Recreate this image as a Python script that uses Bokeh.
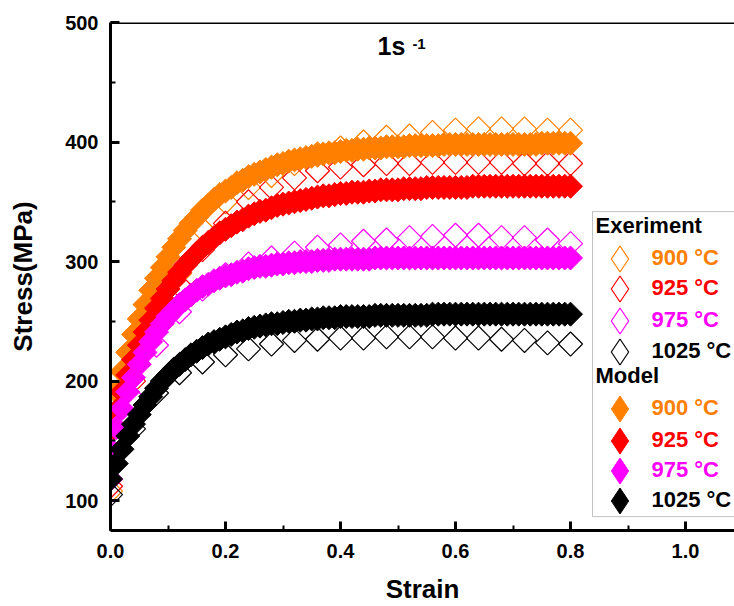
import math
from bokeh.plotting import figure
from bokeh.models import (Range1d, SingleIntervalTicker, Label, Legend, LegendItem,
                          BoxAnnotation, Span, PrintfTickFormatter)
from bokeh.embed import file_html
from bokeh.resources import INLINE

# ---------------- data ----------------
strain_exp = [0.00, 0.04, 0.08, 0.12, 0.16, 0.20, 0.24, 0.28, 0.32, 0.36, 0.40,
              0.44, 0.48, 0.52, 0.56, 0.60, 0.64, 0.68, 0.72, 0.76, 0.80]

exp_900 = [108, 215, 262, 290, 327, 350, 362, 372, 382, 390, 395,
           400, 404, 405, 408, 410, 411, 411, 411, 410, 410]
exp_925 = [112, 200, 248, 280, 310, 332, 350, 362, 370, 376, 379,
           381, 382, 382, 383, 383, 383, 383, 382, 382, 382]
exp_975 = [118, 185, 230, 258, 277, 289, 298, 303, 307, 312, 314,
           317, 318, 320, 321, 322, 322, 320, 320, 318, 315]
exp_1025 = [105, 160, 190, 207, 216, 222, 227, 231, 234, 235, 236,
            236, 237, 237, 237, 236, 236, 235, 234, 232, 231]

strain_model = [0.00, 0.01, 0.02, 0.03, 0.04, 0.05, 0.06, 0.07, 0.08, 0.09,
                0.10, 0.11, 0.12, 0.13, 0.14, 0.15, 0.16, 0.17, 0.18, 0.19,
                0.20, 0.21, 0.22, 0.23, 0.24, 0.25, 0.26, 0.27, 0.28, 0.29,
                0.30, 0.31, 0.32, 0.33, 0.34, 0.35, 0.36, 0.37, 0.38, 0.39,
                0.40, 0.41, 0.42, 0.43, 0.44, 0.45, 0.46, 0.47, 0.48, 0.49,
                0.50, 0.51, 0.52, 0.53, 0.54, 0.55, 0.56, 0.57, 0.58, 0.59,
                0.60, 0.61, 0.62, 0.63, 0.64, 0.65, 0.66, 0.67, 0.68, 0.69,
                0.70, 0.71, 0.72, 0.73, 0.74, 0.75, 0.76, 0.77, 0.78, 0.79,
                0.80]

model_900 = [172, 191, 208, 224, 239, 252, 264, 276, 286, 295,
             304, 312, 319, 326, 332, 337, 343, 347, 352, 356,
             359, 362, 366, 368, 371, 373, 375, 377, 379, 381,
             382, 384, 385, 386, 387, 388, 389, 390, 391, 391,
             392, 393, 393, 394, 394, 395, 395, 395, 396, 396,
             396, 396, 397, 397, 397, 397, 397, 397, 398, 398,
             398, 398, 398, 398, 398, 398, 398, 398, 398, 398,
             398, 398, 398, 398, 398, 399, 399, 399, 399, 399,
             399]
model_925 = [158, 175, 191, 205, 218, 230, 241, 251, 261, 269,
             277, 284, 291, 297, 302, 307, 312, 316, 320, 324,
             327, 330, 333, 335, 338, 340, 342, 343, 345, 347,
             348, 349, 350, 351, 352, 353, 354, 355, 355, 356,
             357, 357, 358, 358, 358, 359, 359, 360, 360, 360,
             360, 361, 361, 361, 361, 362, 362, 362, 362, 362,
             362, 362, 362, 363, 363, 363, 363, 363, 363, 363,
             363, 363, 363, 363, 363, 363, 363, 363, 363, 363,
             363]
model_975 = [143, 161, 177, 191, 203, 214, 224, 233, 241, 248,
             254, 259, 264, 268, 272, 276, 279, 281, 284, 286,
             288, 289, 291, 292, 294, 295, 296, 296, 297, 298,
             298, 299, 299, 300, 300, 300, 301, 301, 301, 302,
             302, 302, 302, 302, 302, 302, 303, 303, 303, 303,
             303, 303, 303, 303, 303, 303, 303, 303, 303, 303,
             303, 303, 303, 303, 303, 303, 303, 303, 303, 303,
             303, 303, 303, 303, 303, 303, 303, 303, 303, 303,
             303]
model_1025 = [118, 131, 143, 154, 164, 172, 180, 187, 194, 200,
              205, 210, 214, 218, 222, 225, 228, 231, 233, 235,
              237, 239, 241, 242, 244, 245, 246, 247, 248, 248,
              249, 250, 250, 251, 251, 252, 252, 253, 253, 253,
              254, 254, 254, 254, 254, 254, 255, 255, 255, 255,
              255, 255, 255, 255, 255, 255, 256, 256, 256, 256,
              256, 256, 256, 256, 256, 256, 256, 256, 256, 256,
              256, 256, 256, 256, 256, 256, 256, 256, 256, 256,
              256]

temps = ["900 \u00b0C", "925 \u00b0C", "975 \u00b0C", "1025 \u00b0C"]
colors = ["#FF8000", "#FF0000", "#FF00FF", "#000000"]
exp_series = [exp_900, exp_925, exp_975, exp_1025]
model_series = [model_900, model_925, model_975, model_1025]

FONT = "Liberation Sans"

# ---------------- figure ----------------
p = figure(width=734, height=606, output_backend="svg", toolbar_location=None,
           x_range=Range1d(0, 1.0852), y_range=Range1d(75, 500),
           min_border_left=110, min_border_right=0, min_border_top=22,
           min_border_bottom=76)
p.outline_line_color = None
p.xgrid.visible = False
p.ygrid.visible = False
p.background_fill_color = "white"
p.border_fill_color = "white"

for ax in (p.xaxis[0], p.yaxis[0]):
    ax.axis_line_width = 3
    ax.axis_line_color = "black"
    ax.major_tick_in = 9
    ax.major_tick_out = 0
    ax.minor_tick_in = 5
    ax.minor_tick_out = 0
    ax.major_tick_line_width = 3
    ax.minor_tick_line_width = 2
    ax.major_label_text_font = FONT
    ax.major_label_text_font_size = "20px"
    ax.major_label_text_font_style = "bold"
    ax.major_label_text_color = "black"
    ax.axis_label_text_font = FONT
    ax.axis_label_text_font_size = "26px"
    ax.axis_label_text_font_style = "bold"
    ax.axis_label_text_color = "black"

p.xaxis[0].ticker = SingleIntervalTicker(interval=0.2, num_minor_ticks=2)
p.yaxis[0].ticker = SingleIntervalTicker(interval=100, num_minor_ticks=2)
p.xaxis[0].formatter = PrintfTickFormatter(format="%.1f")
p.xaxis[0].major_label_standoff = 13
p.yaxis[0].major_label_standoff = 12
p.xaxis[0].axis_label = "Strain"
p.yaxis[0].axis_label = "Stress(MPa)"
p.xaxis[0].axis_label_standoff = 13
p.yaxis[0].axis_label_standoff = 24

p.add_layout(Span(location=500, dimension="width", line_color="black", line_width=3))

for ys, c in zip(exp_series, colors):
    p.scatter(x=strain_exp, y=ys, marker="square", angle=math.pi / 4, size=17,
              fill_color=None, line_color=c, line_width=1.2)

for ys, c in zip(model_series, colors):
    p.scatter(x=strain_model, y=ys, marker="square", angle=math.pi / 4, size=17,
              fill_color=c, line_color=c, line_width=1)

# ---------------- legend ----------------
p.add_layout(BoxAnnotation(left=0.8383, bottom=86.6, top=341.8, fill_color="white",
                           fill_alpha=1.0, line_color="#333333", line_width=1))

p.add_layout(Label(x=0.8435, y=320, text="Exeriment", text_font=FONT,
                   text_font_size="22px", text_font_style="bold", text_color="black"))
p.add_layout(Label(x=0.8435, y=194.6, text="Model", text_font=FONT,
                   text_font_size="22px", text_font_style="bold", text_color="black"))

SW = 26            # swatch size (px)
G = SW / 0.4       # legend glyph box so that the swatch gets size SW
exp_rows = [258, 288, 320, 351]
model_rows = [408, 440, 470, 500]
NAN = float("nan")  # swatch-only renderers carry no visible point

def add_item(swatch, label, color, cy):
    leg = Legend(items=[LegendItem(label=label, renderers=[swatch])],
                 location=(619 - 110 - G / 2, 530 - cy - G / 2),
                 glyph_width=int(G), glyph_height=int(G), label_height=int(G),
                 label_standoff=max(0, int(652 - (619 + G / 2))),
                 padding=0, margin=0, spacing=0,
                 border_line_color=None, background_fill_alpha=0,
                 label_text_font=FONT, label_text_font_size="22px",
                 label_text_font_style="bold", label_text_color=color)
    p.add_layout(leg)

for t, c, cy in zip(temps, colors, exp_rows):
    sw = p.scatter(x=[NAN], y=[NAN], marker="diamond", size=SW, fill_color=None,
                   line_color=c, line_width=1.2)
    add_item(sw, t, c, cy)
for t, c, cy in zip(temps, colors, model_rows):
    sw = p.scatter(x=[NAN], y=[NAN], marker="diamond", size=SW, fill_color=c,
                   line_color=c, line_width=1)
    add_item(sw, t, c, cy)

# ---------------- title ----------------
p.add_layout(Label(x=0.4643, y=469, text="1s", text_font=FONT,
                   text_font_size="25px", text_font_style="bold", text_color="black"))
p.add_layout(Label(x=0.525, y=478, text="-1", text_font=FONT,
                   text_font_size="15px", text_font_style="bold", text_color="black"))

open("out.html", "w").write(file_html(p, INLINE))
